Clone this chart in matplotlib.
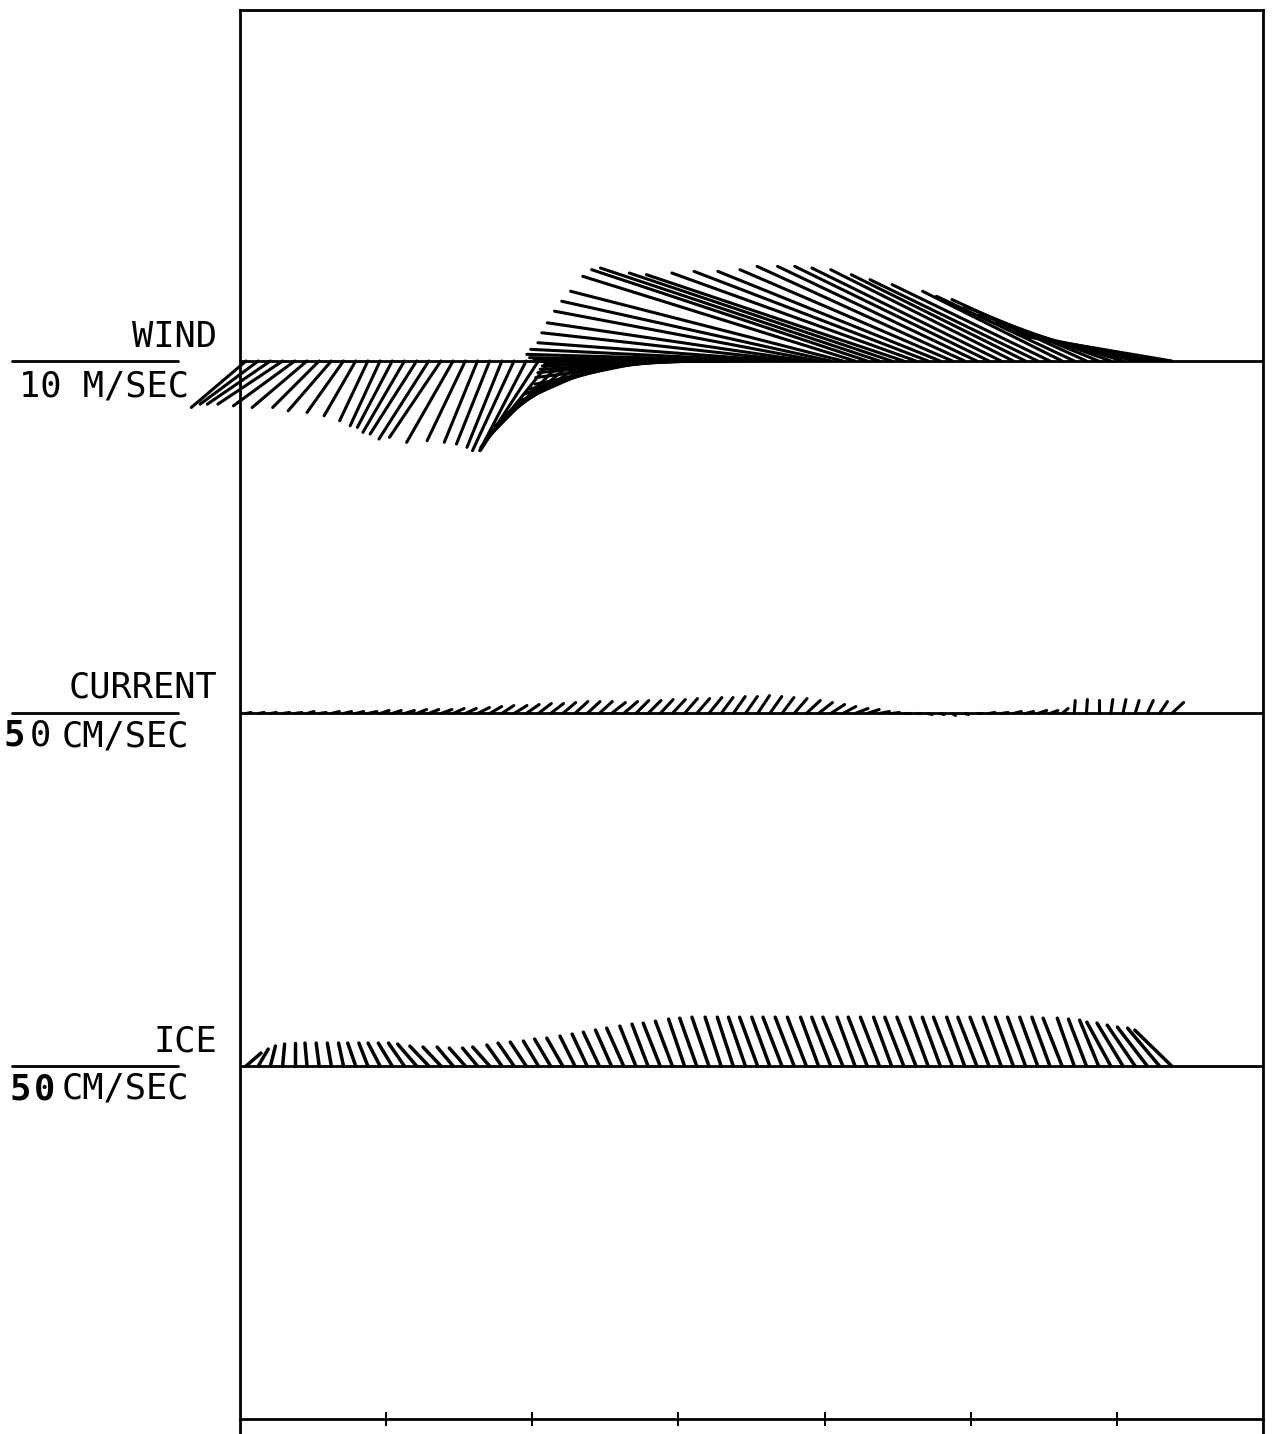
import numpy as np
import matplotlib
matplotlib.use("Agg")
import matplotlib.pyplot as plt
import matplotlib.transforms as mtransforms
from matplotlib.collections import LineCollection

# ---------------- data ----------------
# observation times, hours from start of record (2-hourly)
hours = np.arange(1, 154, 2)
day_ticks = [1, 2, 3, 4, 5, 6]

# wind (m/s): east and north components
wind_u = [-3.3, -3.5, -3.8, -3.9, -3.7, -3.3, -2.8, -2.6, -2.2, -1.9,
          -1.7, -1.8, -2.1, -2.5, -2.8, -3.0, -3.1, -2.8, -2.3, -2.0,
          -2.0, -2.1, -2.5, -2.8, -3.5, -4.2, -4.5, -4.8, -4.9, -5.1,
          -5.5, -6.0, -6.4, -6.8, -7.5, -8.1, -8.7, -9.3, -9.9, -11.1,
          -12.0, -13.0, -13.9, -14.4, -14.7, -15.2, -15.6, -15.9, -16.2, -16.4,
          -16.4, -16.6, -16.8, -15.8, -15.5, -14.7, -14.1, -13.4, -12.8, -12.5,
          -12.0, -11.7, -11.4, -11.0, -10.5, -10.1, -9.5, -8.4, -8.3, -8.1,
          -8.1, -7.9, -7.7, -7.7, -7.8, -8.3, -8.9]
wind_v = [-2.8, -2.6, -2.6, -2.6, -2.7, -2.8, -2.8, -3.0, -3.1, -3.3,
          -3.6, -3.9, -4.0, -4.3, -4.4, -4.7, -4.6, -4.9, -4.8, -4.9,
          -5.0, -5.2, -5.4, -5.4, -5.4, -5.2, -4.6, -3.9, -3.2, -2.7,
          -2.4, -2.0, -1.7, -1.4, -1.0, -0.7, -0.5, -0.3, -0.2, 0.0,
          0.1, 0.2, 0.4, 0.7, 1.1, 1.7, 2.3, 3.0, 3.6, 4.2,
          5.1, 5.5, 5.6, 5.3, 5.2, 5.3, 5.4, 5.4, 5.5, 5.7,
          5.7, 5.7, 5.6, 5.5, 5.2, 4.9, 4.6, 4.2, 3.9, 3.7,
          3.3, 2.8, 2.3, 1.9, 1.6, 1.6, 1.5]

# current (cm/s)
cur_u = [1.5, 1.8, 1.8, 2.1, 2.1, 2.1, 2.1, 2.4, 2.4, 2.4,
         2.7, 2.7, 2.7, 3.0, 3.0, 3.0, 3.3, 3.3, 3.3, 3.6,
         3.6, 3.6, 3.9, 3.9, 3.9, 3.9, 3.9, 3.9, 3.9, 3.9,
         4.2, 4.2, 3.9, 3.9, 3.9, 3.9, 3.9, 3.9, 3.9, 3.6,
         3.6, 3.6, 3.6, 3.6, 3.6, 3.9, 4.2, 4.2, 4.2, 3.9,
         3.9, 3.6, 3.0, 2.4, 1.8, 1.5, 1.2, 1.2, 0.9, 1.2,
         1.5, 1.8, 2.1, 2.4, 2.4, 2.7, 2.4, 1.8, 0.3, 0.3,
         0.0, 0.6, 0.9, 1.2, 1.8, 2.4, 3.6]
cur_v = [0.3, 0.3, 0.3, 0.3, 0.3, 0.6, 0.3, 0.6, 0.6, 0.6,
         0.6, 0.9, 0.9, 0.9, 1.2, 1.2, 1.2, 1.5, 1.5, 1.8,
         2.1, 2.4, 2.4, 2.7, 3.0, 3.0, 3.3, 3.6, 3.6, 3.6,
         3.3, 3.6, 3.9, 3.9, 4.2, 4.2, 4.5, 4.5, 4.8, 4.8,
         5.1, 5.1, 5.4, 5.1, 4.8, 4.5, 3.9, 3.3, 2.7, 2.1,
         1.5, 1.2, 0.6, 0.3, 0.0, 0.0, -0.3, -0.3, -0.6, -0.3,
         0.0, 0.3, 0.3, 0.6, 0.6, 0.9, 0.9, 1.5, 3.9, 4.2,
         4.2, 4.2, 4.2, 3.9, 3.9, 3.6, 3.3]

# ice drift (cm/s)
ice_u = [4.5, 3.0, 1.5, 0.6, 0.0, -0.6, -0.9, -1.2, -1.5, -2.4,
         -2.7, -3.6, -4.2, -4.8, -5.7, -5.7, -5.4, -4.8, -4.8, -4.5,
         -5.1, -4.5, -4.8, -4.8, -4.5, -4.8, -4.8, -4.5, -4.5, -4.8,
         -4.8, -5.1, -4.8, -4.8, -5.1, -5.1, -4.8, -5.1, -5.1, -4.8,
         -4.8, -5.1, -5.4, -5.4, -5.7, -5.7, -5.7, -5.4, -5.7, -6.0,
         -5.4, -5.7, -5.7, -5.4, -5.7, -5.7, -5.4, -5.4, -5.7, -5.4,
         -5.7, -5.7, -5.4, -5.4, -5.4, -5.4, -5.4, -5.7, -5.1, -5.4,
         -5.7, -7.2, -7.8, -8.4, -9.0, -9.6, -11.1]
ice_v = [3.9, 5.1, 6.0, 6.6, 6.9, 6.9, 6.9, 6.9, 6.9, 6.9,
         6.9, 6.9, 6.9, 6.9, 6.6, 6.0, 5.7, 5.7, 5.4, 5.4,
         5.7, 6.3, 6.9, 7.2, 7.5, 8.1, 8.4, 9.0, 9.6, 10.2,
         10.8, 11.4, 12.0, 12.6, 12.9, 13.5, 14.1, 14.4, 14.7, 14.7,
         14.7, 14.7, 14.7, 14.7, 14.7, 14.7, 14.7, 14.7, 14.7, 14.7,
         14.7, 14.7, 14.7, 14.7, 14.7, 14.7, 14.7, 14.7, 14.7, 14.7,
         14.7, 14.7, 14.7, 14.7, 14.7, 14.7, 14.7, 14.4, 14.4, 14.1,
         13.8, 13.2, 12.9, 12.3, 11.7, 11.4, 10.8]

# scale bars shown at the left of each panel
wind_scale = 10.0     # m/s
water_scale = 50.0    # cm/s

# ---------------- figure ----------------
W, H = 1277, 1434
fig = plt.figure(figsize=(W / 100, H / 100), dpi=100)

# axes spans from 10 px below top to below the figure bottom
ax_left, ax_right = 240, 1263
ax_top, ax_bot = 10, 1454
ax = fig.add_axes([ax_left / W, 1 - ax_bot / H, (ax_right - ax_left) / W,
                   (ax_bot - ax_top) / H])

t_days = hours / 24.0
base_wind, base_cur, base_ice = 3.0, 2.0, 1.0

ax.set_xlim(0, 7)
ax.set_ylim(-0.1007, 3.9957)

for s in ["top", "left", "right", "bottom"]:
    ax.spines[s].set_linewidth(2.0)
ax.spines["bottom"].set_position(("data", 0.0))
ax.set_xticks(day_ticks)
ax.set_yticks([])
ax.tick_params(axis="x", direction="inout", length=10, width=1.4,
               labelbottom=False)

for b in (base_wind, base_cur, base_ice):
    ax.axhline(b, color="black", lw=2.0, zorder=3)

wind_in = 0.166    # inches per m/s
water_in = 0.0332  # inches per cm/s


def sticks(x, base, u, v, inch_per_unit, lw):
    segs = [[(0.0, 0.0), (ui, vi)] for ui, vi in zip(u, v)]
    offs = np.column_stack([x, np.full(len(x), base)])
    tr = mtransforms.Affine2D().scale(inch_per_unit) + fig.dpi_scale_trans
    lc = LineCollection(segs, offsets=offs, offset_transform=ax.transData,
                        transform=tr, colors="black", linewidths=lw,
                        capstyle="round", zorder=4)
    lc.set_clip_on(False)
    ax.add_collection(lc, autolim=False)


sticks(t_days, base_wind, wind_u, wind_v, wind_in, 2.2)
sticks(t_days, base_cur, cur_u, cur_v, water_in, 2.2)
sticks(t_days, base_ice, ice_u, ice_v, water_in, 2.5)

# scale bars
bar_x = -1.56
sticks([bar_x], base_wind, [wind_scale], [0.0], wind_in, 2.0)
sticks([bar_x], base_cur, [water_scale], [0.0], water_in, 2.0)
sticks([bar_x], base_ice, [water_scale], [0.0], water_in, 2.0)

# labels
mono = "DejaVu Sans Mono"
fs = 25.5


def ftext(xp, yp, s, ha="right", weight="normal"):
    fig.text(xp / W, 1 - yp / H, s, ha=ha, va="baseline", fontsize=fs,
             family=mono, weight=weight)


ftext(217, 347, "WIND")
ftext(189, 396, "10 M/SEC")
ftext(217, 698, "CURRENT")
ftext(189, 746, "CM/SEC")
ftext(14, 746, "5", ha="center", weight="bold")
ftext(40, 746, "0", ha="center")
ftext(217, 1052, "ICE")
ftext(189, 1099, "CM/SEC")
ftext(20, 1099, "5", ha="center", weight="bold")
ftext(44, 1099, "0", ha="center", weight="bold")

fig.savefig("out.png", dpi=100)
